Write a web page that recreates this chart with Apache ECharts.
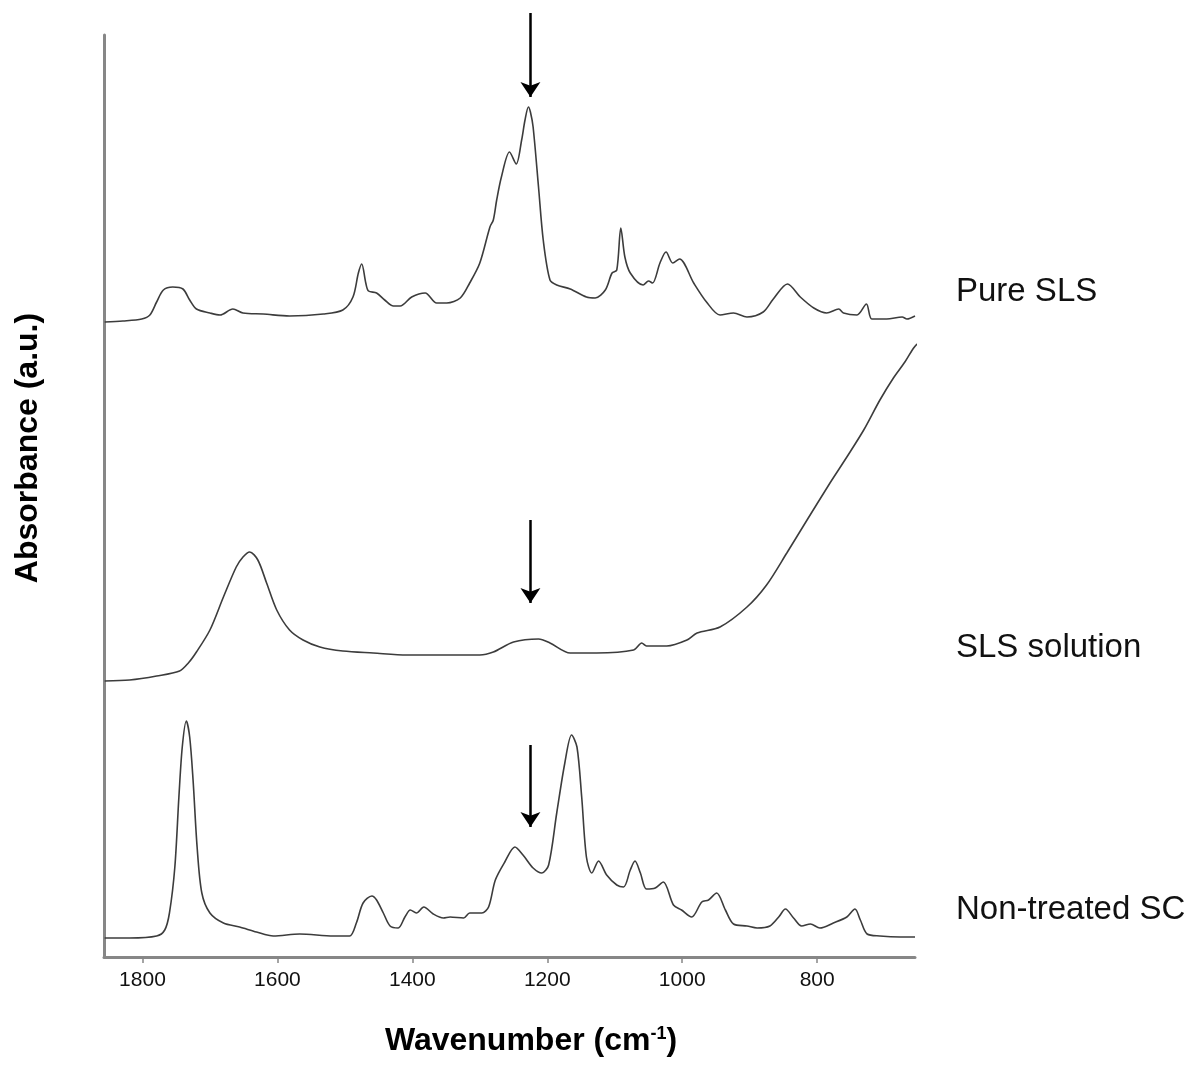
<!DOCTYPE html>
<html>
<head>
<meta charset="utf-8">
<script src="https://cdn.jsdelivr.net/npm/echarts@6/dist/echarts.min.js"></script>
<style>
	html, body { margin: 0; padding: 0; background: #fff; }
	#chart { width: 1193px; height: 1068px; }
</style>
</head>
<body>
<div id="chart"></div>
<script>
// x ticks (cm-1), axis runs high -> low
const xTicks = [1800, 1600, 1400, 1200, 1000, 800];

// Pure SLS (offset trace, a.u.)
const pureWn = [1856, 1829, 1801, 1789, 1779, 1769, 1755, 1740, 1730, 1720, 1700, 1685, 1666, 1651, 1621, 1582, 1532, 1503, 1488, 1480, 1475, 1469, 1465, 1453, 1441, 1428, 1418, 1401, 1381, 1364, 1349, 1329, 1315, 1300, 1285, 1280, 1275, 1268, 1256, 1246, 1238, 1233, 1228, 1225, 1221, 1213, 1206, 1196, 1186, 1166, 1142, 1129, 1114, 1104, 1097, 1091, 1085, 1077, 1058, 1050, 1044, 1033, 1024, 1014, 1004, 983, 964, 944, 924, 904, 880, 865, 844, 825, 805, 786, 768, 761, 741, 727, 719, 697, 674, 667, 655];
const pureAbs = [6.35, 6.36, 6.38, 6.42, 6.55, 6.67, 6.70, 6.68, 6.57, 6.48, 6.44, 6.42, 6.48, 6.44, 6.43, 6.41, 6.43, 6.47, 6.60, 6.84, 6.93, 6.74, 6.66, 6.64, 6.57, 6.51, 6.51, 6.60, 6.64, 6.54, 6.54, 6.59, 6.74, 6.94, 7.30, 7.37, 7.57, 7.80, 8.05, 7.93, 8.17, 8.37, 8.50, 8.45, 8.30, 7.70, 7.17, 6.77, 6.72, 6.68, 6.60, 6.59, 6.67, 6.84, 6.87, 7.29, 7.00, 6.84, 6.72, 6.76, 6.74, 6.94, 7.05, 6.94, 6.98, 6.74, 6.55, 6.42, 6.44, 6.40, 6.45, 6.58, 6.73, 6.60, 6.49, 6.44, 6.48, 6.44, 6.42, 6.53, 6.38, 6.38, 6.40, 6.38, 6.41];

// SLS solution
const solWn = [1856, 1819, 1779, 1745, 1732, 1720, 1700, 1680, 1661, 1651, 1641, 1629, 1616, 1601, 1582, 1562, 1537, 1503, 1458, 1408, 1334, 1300, 1280, 1250, 1213, 1196, 1166, 1127, 1072, 1060, 1053, 1023, 993, 978, 944, 904, 875, 845, 815, 781, 756, 731, 707, 687, 670, 657, 651, 646];
const solAbs = [2.76, 2.77, 2.81, 2.86, 2.94, 3.05, 3.27, 3.60, 3.90, 4.00, 4.05, 3.97, 3.74, 3.47, 3.27, 3.17, 3.10, 3.06, 3.04, 3.02, 3.02, 3.02, 3.05, 3.15, 3.18, 3.14, 3.04, 3.04, 3.07, 3.14, 3.11, 3.11, 3.17, 3.24, 3.30, 3.50, 3.72, 4.04, 4.37, 4.74, 5.00, 5.27, 5.57, 5.79, 5.95, 6.09, 6.13, 6.05];

// Non-treated SC
const scWn = [1856, 1819, 1779, 1767, 1760, 1752, 1746, 1741, 1735, 1730, 1725, 1719, 1712, 1700, 1680, 1656, 1631, 1606, 1567, 1517, 1493, 1483, 1473, 1460, 1453, 1443, 1433, 1421, 1411, 1403, 1394, 1383, 1369, 1354, 1344, 1324, 1315, 1297, 1287, 1277, 1263, 1248, 1236, 1221, 1208, 1198, 1186, 1174, 1164, 1156, 1149, 1142, 1134, 1124, 1112, 1097, 1087, 1077, 1070, 1062, 1053, 1040, 1028, 1013, 1001, 986, 971, 961, 949, 936, 924, 904, 889, 870, 857, 847, 835, 823, 810, 796, 776, 756, 744, 736, 726, 707, 677, 655];
const scAbs = [0.19, 0.19, 0.21, 0.27, 0.44, 0.90, 1.60, 2.10, 2.36, 2.20, 1.77, 1.10, 0.64, 0.44, 0.34, 0.30, 0.25, 0.21, 0.23, 0.21, 0.21, 0.34, 0.54, 0.61, 0.57, 0.44, 0.31, 0.29, 0.40, 0.47, 0.44, 0.50, 0.43, 0.39, 0.40, 0.39, 0.44, 0.44, 0.50, 0.77, 0.95, 1.10, 1.02, 0.89, 0.84, 0.92, 1.44, 1.94, 2.22, 2.10, 1.60, 1.00, 0.84, 0.96, 0.82, 0.72, 0.70, 0.87, 0.96, 0.84, 0.68, 0.69, 0.75, 0.52, 0.47, 0.40, 0.55, 0.57, 0.64, 0.47, 0.33, 0.31, 0.29, 0.31, 0.40, 0.48, 0.39, 0.31, 0.33, 0.29, 0.34, 0.40, 0.48, 0.37, 0.23, 0.21, 0.20, 0.20];

// arrows marking the ~1225 cm-1 band, one per trace
const arrowWn = 1225;
const arrowStart = [9.44, 4.37, 2.12];
const arrowTip = [8.60, 3.54, 1.30];

const seriesNames = ['Pure SLS', 'SLS solution', 'Non-treated SC'];
const FONT = '"Liberation Sans", Arial, Helvetica, sans-serif';
const AXIS_GRAY = '#878787';

function pairs(xs, ys) {
	return xs.map((x, i) => [x, ys[i]]);
}

function traceSeries(name, data) {
	return {
		name,
		type: 'line',
		data,
		showSymbol: false,
		smooth: 0.3,
		clip: false,
		lineStyle: { color: '#3c3c3c', width: 1.6 },
	};
}

const arrowData = arrowStart.map((y0, i) => ({
	coords: [[arrowWn, y0], [arrowWn, arrowTip[i]]],
}));

const chart = echarts.init(document.getElementById('chart'), null, { renderer: 'canvas' });

chart.setOption({
	animation: false,
	backgroundColor: '#fff',
	grid: { left: 104, right: 278, top: 35, bottom: 111 },
	xAxis: {
		type: 'value',
		inverse: true,
		min: 655,
		max: 1857,
		axisLine: { lineStyle: { color: AXIS_GRAY, width: 3 } },
		axisTick: {
			show: true,
			customValues: xTicks,
			length: 6,
			lineStyle: { color: AXIS_GRAY, width: 1.5 },
		},
		axisLabel: {
			customValues: xTicks,
			formatter: (v) => String(v),
			fontSize: 21,
			fontFamily: FONT,
			color: '#111',
			margin: 13,
		},
		splitLine: { show: false },
	},
	yAxis: {
		type: 'value',
		min: 0,
		max: 9.22,
		axisLine: { show: true, lineStyle: { color: AXIS_GRAY, width: 3 } },
		axisTick: { show: false },
		axisLabel: { show: false },
		splitLine: { show: false },
	},
	graphic: [
		{ type: 'text', x: 956, y: 292, style: { text: seriesNames[0], font: '33px ' + FONT, fill: '#111', verticalAlign: 'middle' } },
		{ type: 'text', x: 956, y: 648, style: { text: seriesNames[1], font: '33px ' + FONT, fill: '#111', verticalAlign: 'middle' } },
		{ type: 'text', x: 956, y: 910, style: { text: seriesNames[2], font: '33px ' + FONT, fill: '#111', verticalAlign: 'middle' } },
		{
			type: 'text',
			x: 28,
			y: 448,
			rotation: Math.PI / 2,
			style: { text: 'Absorbance (a.u.)', font: 'bold 32px ' + FONT, fill: '#000', align: 'center', verticalAlign: 'middle' },
		},
		{
			type: 'text',
			x: 531,
			y: 1041,
			style: {
				text: '{b|Wavenumber (cm}{s|-1}{b|)}',
				align: 'center',
				verticalAlign: 'middle',
				rich: {
					b: { fontSize: 32, fontWeight: 'bold', fontFamily: FONT, color: '#000' },
					s: { fontSize: 18, fontWeight: 'bold', fontFamily: FONT, color: '#000', verticalAlign: 'top' },
				},
			},
		},
	],
	series: [
		traceSeries(seriesNames[0], pairs(pureWn, pureAbs)),
		traceSeries(seriesNames[1], pairs(solWn, solAbs)),
		traceSeries(seriesNames[2], pairs(scWn, scAbs)),
		{
			name: 'arrows',
			type: 'lines',
			coordinateSystem: 'cartesian2d',
			clip: false,
			silent: true,
			symbol: ['none', 'arrow'],
			symbolSize: [13, 15],
			lineStyle: { color: '#000', width: 2.5, opacity: 1, curveness: 0 },
			data: arrowData,
		},
	],
});
</script>
</body>
</html>
